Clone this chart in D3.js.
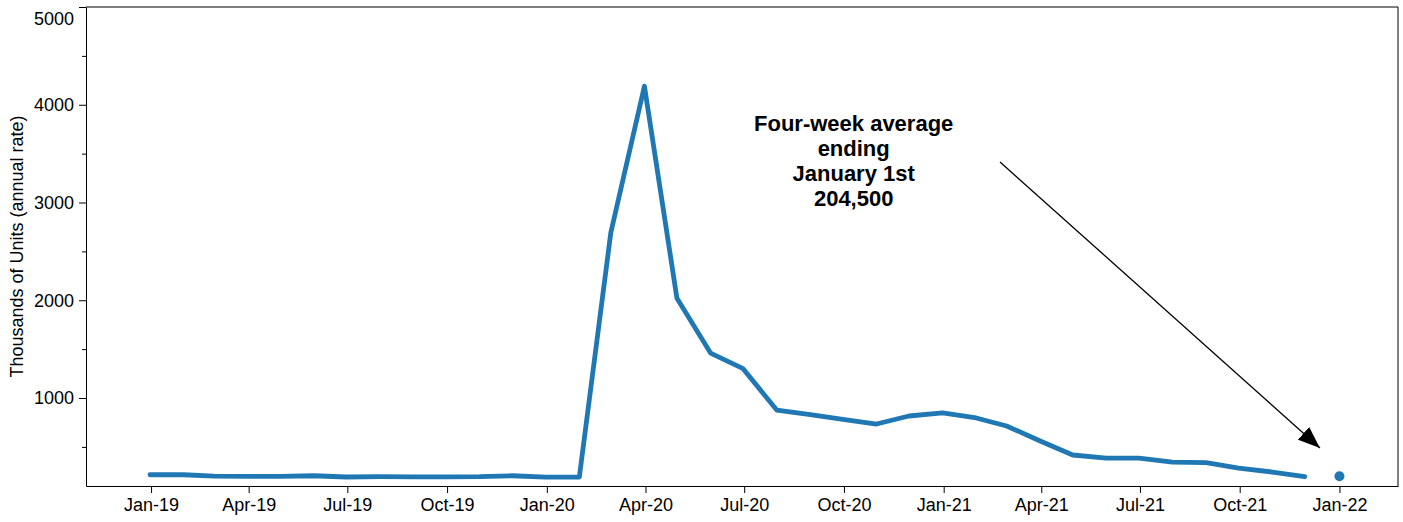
<!DOCTYPE html>
<html>
<head>
<meta charset="utf-8">
<script src="https://cdn.jsdelivr.net/npm/d3@7"></script>
<style>
    body { margin: 0; background: #fff; }
    svg { display: block; font-family: "Liberation Sans", Arial, sans-serif; }
</style>
</head>
<body>
<svg></svg>
<script>
const width = 1403;
const height = 522;
const margin = { top: 7, right: 5, bottom: 36, left: 86 };

// month-end dates of the series
const dates = [
    "2018-12-31", "2019-01-31", "2019-02-28", "2019-03-31", "2019-04-30", "2019-05-31",
    "2019-06-30", "2019-07-31", "2019-08-31", "2019-09-30", "2019-10-31", "2019-11-30",
    "2019-12-31", "2020-01-31", "2020-02-29", "2020-03-31", "2020-04-30", "2020-05-31",
    "2020-06-30", "2020-07-31", "2020-08-31", "2020-09-30", "2020-10-31", "2020-11-30",
    "2020-12-31", "2021-01-31", "2021-02-28", "2021-03-31", "2021-04-30", "2021-05-31",
    "2021-06-30", "2021-07-31", "2021-08-31", "2021-09-30", "2021-10-31", "2021-11-30"
];
// thousands of units (annual rate)
const values = [
    215, 215, 200, 198, 198, 205,
    192, 195, 193, 193, 195, 205,
    190, 192, 2690, 4190, 2020, 1460,
    1300, 877, 829, 782, 734, 816,
    847, 796, 714, 560, 417, 386,
    386, 345, 340, 284, 243, 195
];

// latest four-week average point
const latestDate = "2022-01-01";
const latestValue = 200;

const xTickDates = [
    "2019-01-01", "2019-04-01", "2019-07-01", "2019-10-01",
    "2020-01-01", "2020-04-01", "2020-07-01", "2020-10-01",
    "2021-01-01", "2021-04-01", "2021-07-01", "2021-10-01", "2022-01-01"
];
const yMajorTicks = [1000, 2000, 3000, 4000, 5000];
const yMinorTicks = [500, 1500, 2500, 3500, 4500];

const annotationLines = ["Four-week average", "ending", "January 1st", "204,500"];
// annotation anchors in data space
const noteTextAt = { date: "2020-10-10", value: 3730 };
const arrowFrom = { date: "2021-02-22", value: 3414 };
const arrowTo = { date: "2021-12-14", value: 489 };

const parse = d3.timeParse("%Y-%m-%d");
const fmt = d3.timeFormat("%b-%y");

const data = dates.map((d, i) => ({ date: parse(d), value: values[i] }));

const svg = d3.select("svg")
    .attr("width", width)
    .attr("height", height);

const x = d3.scaleTime()
    .domain([parse("2018-11-02"), parse("2022-02-24")])
    .range([margin.left, width - margin.right]);

const y = d3.scaleLinear()
    .domain([100, 5000])
    .range([height - margin.bottom, margin.top]);

// x axis
const gx = svg.append("g")
    .attr("transform", `translate(0, ${height - margin.bottom})`)
    .call(d3.axisBottom(x)
        .tickValues(xTickDates.map(parse))
        .tickFormat(fmt)
        .tickSizeInner(7)
        .tickSizeOuter(0)
        .tickPadding(5));
gx.selectAll("text").style("font-size", "18px").attr("fill", "#000");

// y axis minor ticks
svg.append("g")
    .attr("transform", `translate(${margin.left}, 0)`)
    .call(d3.axisLeft(y).tickValues(yMinorTicks).tickFormat("").tickSizeInner(4).tickSizeOuter(0))
    .select(".domain").remove();

// y axis
const gy = svg.append("g")
    .attr("transform", `translate(${margin.left}, 0)`)
    .call(d3.axisLeft(y)
        .tickValues(yMajorTicks)
        .tickFormat(d3.format("d"))
        .tickSizeInner(7)
        .tickSizeOuter(0)
        .tickPadding(5));
gy.selectAll("text").style("font-size", "18px").attr("fill", "#000");
// top label sits a bit lower, like the reference
gy.selectAll(".tick").filter(d => d === 5000).select("text").attr("dy", "0.95em");

// frame (top and right spines)
svg.append("path")
    .attr("d", `M${margin.left},${margin.top}H${width - margin.right}V${height - margin.bottom}`)
    .attr("fill", "none")
    .attr("stroke", "#000")
    .attr("stroke-width", 1);

svg.selectAll(".domain").attr("stroke", "#000");

// y label
svg.append("text")
    .attr("transform", `translate(23, ${(margin.top + height - margin.bottom) / 2}) rotate(-90)`)
    .attr("text-anchor", "middle")
    .style("font-size", "18px")
    .text("Thousands of Units (annual rate)");

// series line
const line = d3.line()
    .x(d => x(d.date))
    .y(d => y(d.value));

svg.append("path")
    .datum(data)
    .attr("d", line)
    .attr("fill", "none")
    .attr("stroke", "#1f77b4")
    .attr("stroke-width", 4.8)
    .attr("stroke-linejoin", "round")
    .attr("stroke-linecap", "round");

// latest point
svg.append("circle")
    .attr("cx", x(parse(latestDate)))
    .attr("cy", y(latestValue))
    .attr("r", 5)
    .attr("fill", "#1f77b4");

// annotation
const note = svg.append("text")
    .attr("text-anchor", "middle")
    .style("font-size", "22px")
    .style("font-weight", "bold");
note.selectAll("tspan")
    .data(annotationLines)
    .enter()
    .append("tspan")
    .attr("x", x(parse(noteTextAt.date)))
    .attr("y", (d, i) => y(noteTextAt.value) + i * 24.8)
    .text(d => d);

svg.append("defs").append("marker")
    .attr("id", "head")
    .attr("viewBox", "0 0 22 17")
    .attr("refX", 22)
    .attr("refY", 8.5)
    .attr("markerWidth", 22)
    .attr("markerHeight", 17)
    .attr("markerUnits", "userSpaceOnUse")
    .attr("orient", "auto")
    .append("path")
    .attr("d", "M0,0L22,8.5L0,17Z")
    .attr("fill", "#000");

svg.append("line")
    .attr("x1", x(parse(arrowFrom.date)))
    .attr("y1", y(arrowFrom.value))
    .attr("x2", x(parse(arrowTo.date)))
    .attr("y2", y(arrowTo.value))
    .attr("stroke", "#000")
    .attr("stroke-width", 1.3)
    .attr("marker-end", "url(#head)");
</script>
</body>
</html>
